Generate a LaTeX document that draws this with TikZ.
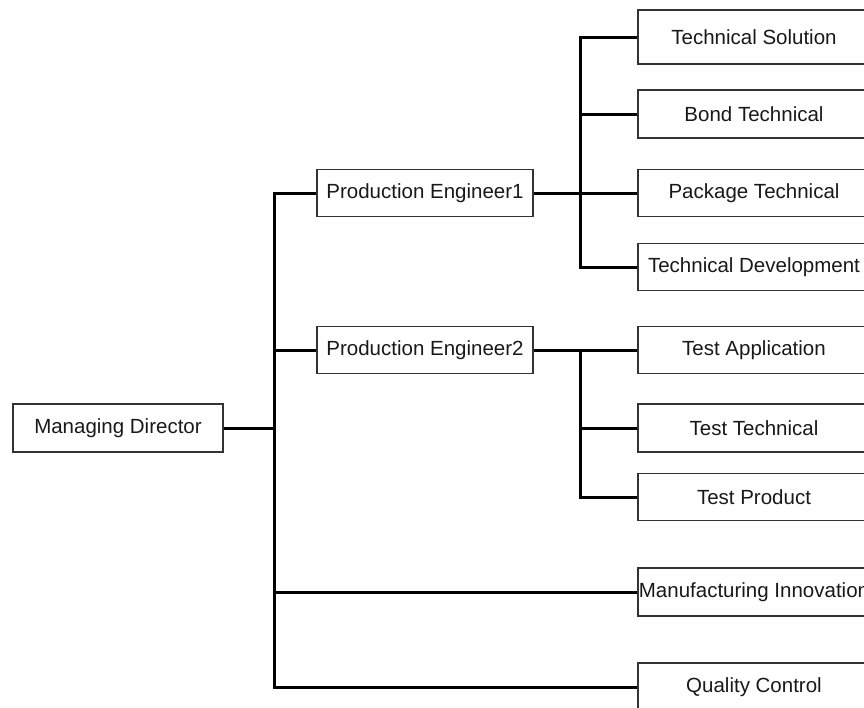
\documentclass[tikz,border=0pt]{standalone}
\usepackage{fontspec}
\setmainfont{Liberation Sans}
\usetikzlibrary{positioning,calc}
\newcommand{\orgfont}{\fontsize{20.5}{24}\selectfont}
\tikzset{
 box/.style={draw=black!80,line width=1.5pt,align=center,minimum height=47pt,
             inner xsep=0pt,font=\orgfont,text=black!90},
 leftbox/.style={box,minimum width=216pt},
 rightbox/.style={box,minimum width=232pt},
 link/.style={line width=3pt,black}
}
\begin{document}
\begin{tikzpicture}[x=1pt,y=-1pt]
\useasboundingbox (0,0) rectangle (864,707);
\clip (0,0) rectangle (864,707);
\node[box,minimum width=210pt,minimum height=48pt] (md) at (118,428) {Managing Director};
\node[leftbox] (pe1) at (425,193) {Production Engineer1};
\node[leftbox] (pe2) at (425,350) {Production Engineer2};
\node[rightbox,minimum height=54pt] (tsol) at (754,37) {Technical Solution};
\node[rightbox,minimum height=48pt] (bond) at (754,114) {Bond Technical};
\node[rightbox] (pack) at (754,193) {Package Technical};
\node[rightbox] (tdev) at (754,267) {Technical Development};
\node[rightbox] (tapp) at (754,350) {Test Application};
\node[rightbox,minimum height=48pt] (ttech) at (754,428) {Test Technical};
\node[rightbox] (tprod) at (754,497) {Test Product};
\node[rightbox,minimum height=48pt] (minn) at (754,592) {Manufacturing Innovation};
\node[rightbox,minimum height=48pt] (qc) at (754,687) {Quality Control};
\coordinate (bus) at (274,428);
\coordinate (bus1) at (580,193);
\coordinate (bus2) at (580,350);
\draw[link] (md) -- (bus);
\draw[link] (pe1) -| (bus) |- (qc);
\draw[link] (pe2) -- (pe2 -| bus);
\draw[link] (minn) -- (minn -| bus);
\draw[link] (pe1) -- (pack);
\draw[link] (tsol) -| (bus1) |- (tdev);
\draw[link] (bond) -- (bond -| bus1);
\draw[link] (pe2) -- (tapp);
\draw[link] (bus2) |- (tprod);
\draw[link] (ttech) -- (ttech -| bus2);
\end{tikzpicture}
\end{document}
